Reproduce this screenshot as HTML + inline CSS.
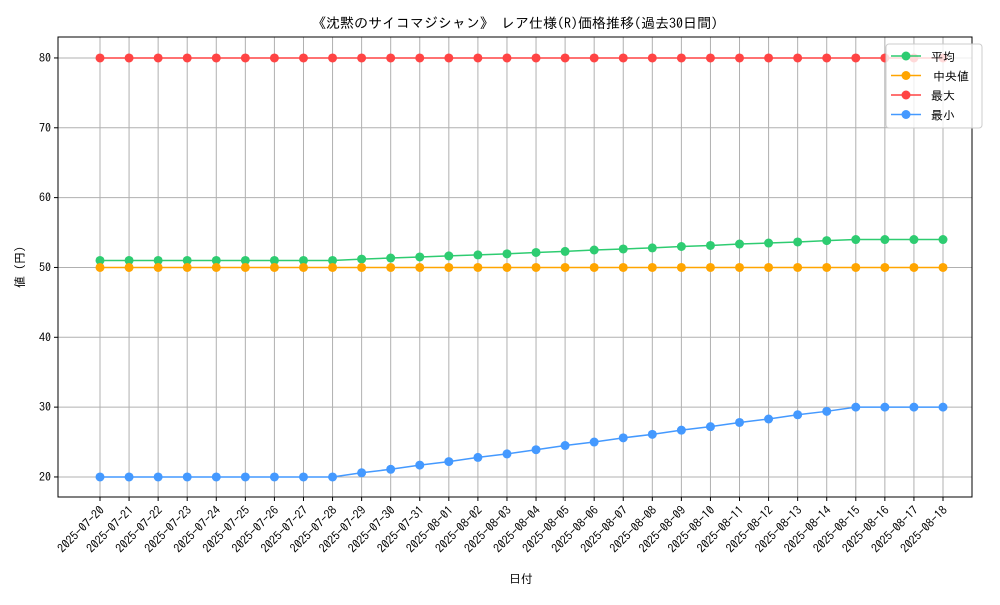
<!DOCTYPE html>
<html><head><meta charset="utf-8"><style>
body{margin:0;background:#fff;}
svg text{font-family:"IPAGothic","Noto Sans CJK JP",sans-serif;fill:#000;}
</style></head><body>
<svg id="c" width="1000" height="600" xmlns="http://www.w3.org/2000/svg"></svg>
<script>
const dates=["2025-07-20","2025-07-21","2025-07-22","2025-07-23","2025-07-24","2025-07-25","2025-07-26","2025-07-27","2025-07-28","2025-07-29","2025-07-30","2025-07-31","2025-08-01","2025-08-02","2025-08-03","2025-08-04","2025-08-05","2025-08-06","2025-08-07","2025-08-08","2025-08-09","2025-08-10","2025-08-11","2025-08-12","2025-08-13","2025-08-14","2025-08-15","2025-08-16","2025-08-17","2025-08-18"];
const avgVals=[51,51,51,51,51,51,51,51,51,51.2,51.35,51.5,51.65,51.8,51.95,52.15,52.3,52.5,52.65,52.8,53,53.15,53.35,53.5,53.65,53.85,54,54,54,54];
const medVals=[50,50,50,50,50,50,50,50,50,50,50,50,50,50,50,50,50,50,50,50,50,50,50,50,50,50,50,50,50,50];
const maxVals=[80,80,80,80,80,80,80,80,80,80,80,80,80,80,80,80,80,80,80,80,80,80,80,80,80,80,80,80,80,80];
const minVals=[20,20,20,20,20,20,20,20,20,20.6,21.1,21.7,22.2,22.8,23.3,23.9,24.5,25,25.6,26.1,26.7,27.2,27.8,28.3,28.9,29.4,30,30,30,30];
const yTicks=[20,30,40,50,60,70,80];
const seriesNames=["平均","中央値","最大","最小"];
const colors=["#2ecc71","#ffa500","#ff4444","#4499ff"];

const svg=document.getElementById('c');const NS="http://www.w3.org/2000/svg";
const L=58,R=972,T=37,B=497,yMin=17.13,yMax=83.0;
const x=i=>100+i*(943-100)/(dates.length-1);
const y=v=>B-(v-yMin)/(yMax-yMin)*(B-T);
function mk(t,a,p){const e=document.createElementNS(NS,t);for(const k in a)e.setAttribute(k,a[k]);(p||svg).appendChild(e);return e;}
dates.forEach((d,i)=>{const g=mk('line',{x1:x(i),x2:x(i),y1:T,y2:B,stroke:'#b0b0b0','stroke-width':1});


mk('line',{x1:x(i),x2:x(i),y1:B,y2:B+4,stroke:'#000'});
const t=mk('text',{x:x(i)+5,y:B+14,'font-size':12,'text-anchor':'end',transform:`rotate(-45 ${x(i)+5} ${B+14})`});t.textContent=d;

});
yTicks.forEach(v=>{const g=mk('line',{x1:L,x2:R,y1:y(v),y2:y(v),stroke:'#b0b0b0','stroke-width':1});


mk('line',{x1:L-4,x2:L,y1:y(v),y2:y(v),stroke:'#000'});
const t=mk('text',{x:L-7,y:y(v)+4,'font-size':12,'text-anchor':'end'});t.textContent=v;

});
const fr=mk('rect',{x:L,y:T,width:R-L,height:B-T,fill:'none',stroke:'#000','stroke-width':1});


[avgVals,medVals,maxVals,minVals].forEach((vals,s)=>{
const g=mk('g',{});


mk('polyline',{points:vals.map((v,i)=>x(i)+','+y(v)).join(' '),fill:'none',stroke:colors[s],'stroke-width':1.5},g);
vals.forEach((v,i)=>{const c=mk('circle',{cx:x(i),cy:y(v),r:4.5,fill:colors[s]},g);

});});
const lg=mk('g',{});


mk('rect',{x:886,y:44,width:96,height:84,rx:3,fill:'rgba(255,255,255,0.8)',stroke:'#ccc'},lg);
seriesNames.forEach((n,s)=>{const yy=56+s*19.5;
mk('line',{x1:891,x2:921,y1:yy,y2:yy,stroke:colors[s],'stroke-width':1.5},lg);
mk('circle',{cx:906,cy:yy,r:4.5,fill:colors[s]},lg);
const t=mk('text',{x:s==1?933:931,y:yy+5,'font-size':12},lg);t.textContent=n;

});
const title=mk('text',{x:515,y:28,'font-size':14,'text-anchor':'middle'});title.textContent="《沈黙のサイコマジシャン》 レア仕様(R)価格推移(過去30日間)";


const xt=mk('text',{x:521,y:583,'font-size':12,'text-anchor':'middle'});xt.textContent="日付";


const yt=mk('text',{x:24,y:267,'font-size':12,'text-anchor':'middle',transform:'rotate(-90 24 267)'});yt.textContent="値 (円)";


</script>
</body></html>
